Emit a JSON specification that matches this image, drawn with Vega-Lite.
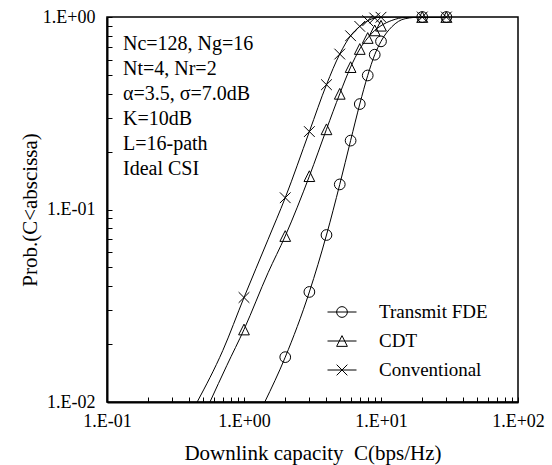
{
  "$schema": "https://vega.github.io/schema/vega-lite/v6.json",
  "width": 411,
  "height": 385,
  "autosize": {"type": "none"},
  "padding": {"left": 107, "top": 17, "right": 34, "bottom": 63},
  "background": "white",
  "config": {
    "font": "Liberation Serif",
    "view": {"stroke": "black", "strokeWidth": 1.5},
    "axis": {
      "grid": false,
      "domainColor": "black",
      "domainWidth": 2,
      "tickColor": "black",
      "tickWidth": 1,
      "tickSize": -5,
      "labelColor": "black",
      "labelFont": "Liberation Serif",
      "labelFontSize": 18,
      "labelOverlap": false,
      "labelBound": false,
      "labelFlush": false,
      "titleColor": "black",
      "titleFont": "Liberation Serif",
      "titleFontWeight": "normal",
      "titleFontSize": 21
    },
    "legend": {
      "labelFont": "Liberation Serif",
      "labelFontSize": 19,
      "labelColor": "black"
    }
  },
  "datasets": {
    "curves": [
      {"series": "Conventional", "c": 0.455, "p": 0.01},
      {"series": "Conventional", "c": 0.7, "p": 0.0185},
      {"series": "Conventional", "c": 1, "p": 0.0349},
      {"series": "Conventional", "c": 1.5, "p": 0.07},
      {"series": "Conventional", "c": 2, "p": 0.1151},
      {"series": "Conventional", "c": 3, "p": 0.254},
      {"series": "Conventional", "c": 4, "p": 0.445},
      {"series": "Conventional", "c": 5, "p": 0.642},
      {"series": "Conventional", "c": 6, "p": 0.799},
      {"series": "Conventional", "c": 7, "p": 0.894},
      {"series": "Conventional", "c": 8, "p": 0.957},
      {"series": "Conventional", "c": 9, "p": 0.988},
      {"series": "Conventional", "c": 10, "p": 0.997},
      {"series": "Conventional", "c": 12, "p": 1},
      {"series": "Conventional", "c": 20, "p": 1},
      {"series": "Conventional", "c": 30, "p": 1},
      {"series": "CDT", "c": 0.564, "p": 0.01},
      {"series": "CDT", "c": 0.75, "p": 0.0155},
      {"series": "CDT", "c": 1, "p": 0.0238},
      {"series": "CDT", "c": 1.5, "p": 0.047},
      {"series": "CDT", "c": 2, "p": 0.0728},
      {"series": "CDT", "c": 3, "p": 0.149},
      {"series": "CDT", "c": 4, "p": 0.261},
      {"series": "CDT", "c": 5, "p": 0.399},
      {"series": "CDT", "c": 6, "p": 0.549},
      {"series": "CDT", "c": 7, "p": 0.682},
      {"series": "CDT", "c": 8, "p": 0.778},
      {"series": "CDT", "c": 9, "p": 0.852},
      {"series": "CDT", "c": 10, "p": 0.901},
      {"series": "CDT", "c": 12, "p": 0.96},
      {"series": "CDT", "c": 15, "p": 0.995},
      {"series": "CDT", "c": 20, "p": 1},
      {"series": "CDT", "c": 30, "p": 1},
      {"series": "Transmit FDE", "c": 1.418, "p": 0.01},
      {"series": "Transmit FDE", "c": 2, "p": 0.0171},
      {"series": "Transmit FDE", "c": 3, "p": 0.0373},
      {"series": "Transmit FDE", "c": 4, "p": 0.0737},
      {"series": "Transmit FDE", "c": 5, "p": 0.135},
      {"series": "Transmit FDE", "c": 6, "p": 0.228},
      {"series": "Transmit FDE", "c": 7, "p": 0.353},
      {"series": "Transmit FDE", "c": 8, "p": 0.497},
      {"series": "Transmit FDE", "c": 9, "p": 0.637},
      {"series": "Transmit FDE", "c": 10, "p": 0.747},
      {"series": "Transmit FDE", "c": 12, "p": 0.89},
      {"series": "Transmit FDE", "c": 15, "p": 0.98},
      {"series": "Transmit FDE", "c": 20, "p": 1},
      {"series": "Transmit FDE", "c": 30, "p": 1}
    ],
    "markers": [
      {"series": "Transmit FDE", "c": 2, "p": 0.0171},
      {"series": "Transmit FDE", "c": 3, "p": 0.0373},
      {"series": "Transmit FDE", "c": 4, "p": 0.0737},
      {"series": "Transmit FDE", "c": 5, "p": 0.135},
      {"series": "Transmit FDE", "c": 6, "p": 0.228},
      {"series": "Transmit FDE", "c": 7, "p": 0.353},
      {"series": "Transmit FDE", "c": 8, "p": 0.497},
      {"series": "Transmit FDE", "c": 9, "p": 0.637},
      {"series": "Transmit FDE", "c": 10, "p": 0.747},
      {"series": "Transmit FDE", "c": 20, "p": 1},
      {"series": "Transmit FDE", "c": 30, "p": 1},
      {"series": "CDT", "c": 1, "p": 0.0238},
      {"series": "CDT", "c": 2, "p": 0.0728},
      {"series": "CDT", "c": 3, "p": 0.149},
      {"series": "CDT", "c": 4, "p": 0.261},
      {"series": "CDT", "c": 5, "p": 0.399},
      {"series": "CDT", "c": 6, "p": 0.549},
      {"series": "CDT", "c": 7, "p": 0.682},
      {"series": "CDT", "c": 8, "p": 0.778},
      {"series": "CDT", "c": 9, "p": 0.852},
      {"series": "CDT", "c": 10, "p": 0.901},
      {"series": "CDT", "c": 20, "p": 1},
      {"series": "CDT", "c": 30, "p": 1},
      {"series": "Conventional", "c": 1, "p": 0.0349},
      {"series": "Conventional", "c": 2, "p": 0.1151},
      {"series": "Conventional", "c": 3, "p": 0.254},
      {"series": "Conventional", "c": 4, "p": 0.445},
      {"series": "Conventional", "c": 5, "p": 0.642},
      {"series": "Conventional", "c": 6, "p": 0.799},
      {"series": "Conventional", "c": 7, "p": 0.894},
      {"series": "Conventional", "c": 8, "p": 0.957},
      {"series": "Conventional", "c": 9, "p": 0.988},
      {"series": "Conventional", "c": 10, "p": 0.997},
      {"series": "Conventional", "c": 20, "p": 1},
      {"series": "Conventional", "c": 30, "p": 1}
    ],
    "notes": [
      {"text": "Nc=128, Ng=16", "c": 0.1308, "p": 0.676},
      {"text": "Nt=4, Nr=2", "c": 0.1308, "p": 0.501},
      {"text": "α=3.5, σ=7.0dB", "c": 0.1308, "p": 0.3712},
      {"text": "K=10dB", "c": 0.1308, "p": 0.2752},
      {"text": "L=16-path", "c": 0.1308, "p": 0.204},
      {"text": "Ideal CSI", "c": 0.1308, "p": 0.1517}
    ]
  },
  "resolve": {"scale": {"shape": "independent"}, "legend": {"shape": "independent"}},
  "layer": [
    {
      "data": {"name": "curves"},
      "mark": {"type": "line", "color": "black", "strokeWidth": 1, "interpolate": "monotone", "clip": true},
      "encoding": {
        "x": {
          "field": "c", "type": "quantitative",
          "scale": {"type": "log", "domain": [0.1, 100], "nice": false},
          "axis": {
            "title": "Downlink capacity\u00a0 C(bps/Hz)",
            "values": [0.1,0.2,0.3,0.4,0.5,0.6,0.7,0.8,0.9,1,2,3,4,5,6,7,8,9,10,20,30,40,50,60,70,80,90,100],
            "labelExpr": "datum.value == 0.1 ? '1.E-01' : datum.value == 1 ? '1.E+00' : datum.value == 10 ? '1.E+01' : datum.value == 100 ? '1.E+02' : ''",
            "labelPadding": 15,
            "titlePadding": 12
          }
        },
        "y": {
          "field": "p", "type": "quantitative",
          "scale": {"type": "log", "domain": [0.01, 1], "nice": false},
          "axis": {
            "title": "Prob.(C<abscissa)",
            "values": [0.01,0.02,0.03,0.04,0.05,0.06,0.07,0.08,0.09,0.1,0.2,0.3,0.4,0.5,0.6,0.7,0.8,0.9,1],
            "labelExpr": "datum.value == 0.01 ? '1.E-02' : datum.value == 0.1 ? '1.E-01' : datum.value == 1 ? '1.E+00' : ''",
            "labelPadding": 17,
            "titlePadding": 2
          }
        },
        "detail": {"field": "series"}
      }
    },
    {
      "data": {"name": "markers"},
      "mark": {"type": "point", "filled": false, "stroke": "black", "strokeWidth": 1, "size": 115, "opacity": 1},
      "encoding": {
        "x": {"field": "c", "type": "quantitative"},
        "y": {"field": "p", "type": "quantitative"},
        "shape": {
          "field": "series", "type": "nominal",
          "scale": {
            "domain": ["Transmit FDE", "CDT", "Conventional"],
            "range": [
              "M1,0A1,1 0 1 1 -1,0A1,1 0 1 1 1,0Z",
              "M0,-1L1,1L-1,1Z",
              "M-1,-1L1,1M-1,1L1,-1"
            ]
          },
          "legend": null
        }
      }
    },
    {
      "data": {"name": "markers"},
      "mark": {"type": "point", "filled": false, "stroke": "black", "strokeWidth": 1, "size": 841, "opacity": 0},
      "encoding": {
        "x": {"field": "c", "type": "quantitative"},
        "y": {"field": "p", "type": "quantitative"},
        "shape": {
          "field": "series", "type": "nominal",
          "scale": {
            "domain": ["Transmit FDE", "CDT", "Conventional"],
            "range": [
              "M-1,0L1,0M0.37,0A0.37,0.37 0 1 1 -0.37,0A0.37,0.37 0 1 1 0.37,0Z",
              "M-1,0L1,0M0,-0.37L0.37,0.37L-0.37,0.37Z",
              "M-1,0L1,0M-0.37,-0.37L0.37,0.37M-0.37,0.37L0.37,-0.37"
            ]
          },
          "legend": {
            "title": null,
            "orient": "none",
            "legendX": 220,
            "legendY": 280,
            "padding": 0,
            "rowPadding": 4,
            "symbolSize": 841,
            "labelOffset": 22,
            "symbolOpacity": 1,
            "symbolStrokeColor": "black",
            "symbolStrokeWidth": 1,
            "symbolFillColor": "transparent"
          }
        }
      }
    },
    {
      "data": {"name": "notes"},
      "mark": {"type": "text", "align": "left", "baseline": "alphabetic", "fontSize": 20, "color": "black", "font": "Liberation Serif"},
      "encoding": {
        "x": {"field": "c", "type": "quantitative"},
        "y": {"field": "p", "type": "quantitative"},
        "text": {"field": "text"}
      }
    }
  ]
}
